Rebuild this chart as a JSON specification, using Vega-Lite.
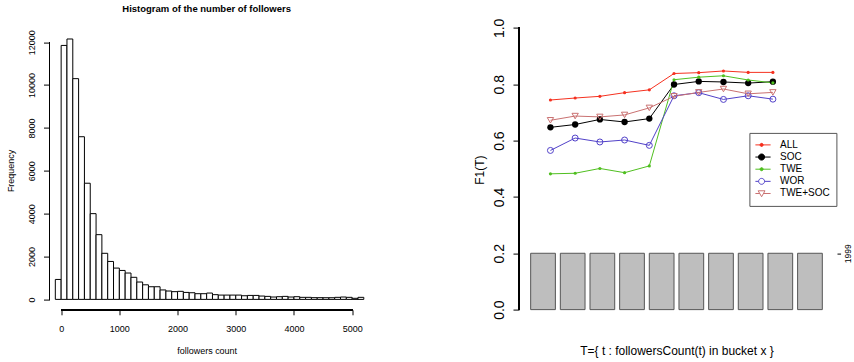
{
  "$schema": "https://vega.github.io/schema/vega-lite/v6.json",
  "padding": {"left": 6.5, "top": 3.6, "right": 0, "bottom": 0},
  "background": "white",
  "spacing": 154.5,
  "bounds": "flush",
  "config": {
    "font": "Liberation Sans",
    "view": {"stroke": null},
    "axis": {"grid": false, "labelColor": "black", "titleColor": "black", "tickColor": "black", "domainColor": "black", "titleFontWeight": "normal", "labelFlush": false, "labelOverlap": false}
  },
  "hconcat": [
    {
      "width": 314.3,
      "height": 293.2,
      "title": {"text": "Histogram of the number of followers", "fontSize": 9.5, "fontWeight": "bold", "anchor": "middle", "frame": "group", "offset": -7.3, "baseline": "bottom", "color": "black"},
      "data": {"values": [
        {"bin_start": -100, "bin_end": 0, "count": 930},
        {"bin_start": 0, "bin_end": 100, "count": 11850},
        {"bin_start": 100, "bin_end": 200, "count": 12150},
        {"bin_start": 200, "bin_end": 300, "count": 10300},
        {"bin_start": 300, "bin_end": 400, "count": 7590},
        {"bin_start": 400, "bin_end": 500, "count": 5420},
        {"bin_start": 500, "bin_end": 600, "count": 4000},
        {"bin_start": 600, "bin_end": 700, "count": 3020},
        {"bin_start": 700, "bin_end": 800, "count": 2150},
        {"bin_start": 800, "bin_end": 900, "count": 1770},
        {"bin_start": 900, "bin_end": 1000, "count": 1460},
        {"bin_start": 1000, "bin_end": 1100, "count": 1350},
        {"bin_start": 1100, "bin_end": 1200, "count": 1230},
        {"bin_start": 1200, "bin_end": 1300, "count": 1030},
        {"bin_start": 1300, "bin_end": 1400, "count": 810},
        {"bin_start": 1400, "bin_end": 1500, "count": 680},
        {"bin_start": 1500, "bin_end": 1600, "count": 590},
        {"bin_start": 1600, "bin_end": 1700, "count": 590},
        {"bin_start": 1700, "bin_end": 1800, "count": 440},
        {"bin_start": 1800, "bin_end": 1900, "count": 390},
        {"bin_start": 1900, "bin_end": 2000, "count": 360},
        {"bin_start": 2000, "bin_end": 2100, "count": 375},
        {"bin_start": 2100, "bin_end": 2200, "count": 325},
        {"bin_start": 2200, "bin_end": 2300, "count": 310},
        {"bin_start": 2300, "bin_end": 2400, "count": 265},
        {"bin_start": 2400, "bin_end": 2500, "count": 265},
        {"bin_start": 2500, "bin_end": 2600, "count": 295},
        {"bin_start": 2600, "bin_end": 2700, "count": 220},
        {"bin_start": 2700, "bin_end": 2800, "count": 200},
        {"bin_start": 2800, "bin_end": 2900, "count": 200},
        {"bin_start": 2900, "bin_end": 3000, "count": 200},
        {"bin_start": 3000, "bin_end": 3100, "count": 200},
        {"bin_start": 3100, "bin_end": 3200, "count": 170},
        {"bin_start": 3200, "bin_end": 3300, "count": 185},
        {"bin_start": 3300, "bin_end": 3400, "count": 185},
        {"bin_start": 3400, "bin_end": 3500, "count": 155},
        {"bin_start": 3500, "bin_end": 3600, "count": 140},
        {"bin_start": 3600, "bin_end": 3700, "count": 110},
        {"bin_start": 3700, "bin_end": 3800, "count": 125},
        {"bin_start": 3800, "bin_end": 3900, "count": 140},
        {"bin_start": 3900, "bin_end": 4000, "count": 110},
        {"bin_start": 4000, "bin_end": 4100, "count": 125},
        {"bin_start": 4100, "bin_end": 4200, "count": 95},
        {"bin_start": 4200, "bin_end": 4300, "count": 95},
        {"bin_start": 4300, "bin_end": 4400, "count": 80},
        {"bin_start": 4400, "bin_end": 4500, "count": 80},
        {"bin_start": 4500, "bin_end": 4600, "count": 78},
        {"bin_start": 4600, "bin_end": 4700, "count": 78},
        {"bin_start": 4700, "bin_end": 4800, "count": 95},
        {"bin_start": 4800, "bin_end": 4900, "count": 110},
        {"bin_start": 4900, "bin_end": 5000, "count": 95},
        {"bin_start": 5000, "bin_end": 5100, "count": 50},
        {"bin_start": 5100, "bin_end": 5200, "count": 95}
      ]},
      "layer": [
        {
          "mark": {"type": "rect", "fill": "white", "stroke": "black", "strokeWidth": 1},
          "encoding": {
            "x": {"field": "bin_start", "type": "quantitative", "scale": {"domain": [-200, 5200], "nice": false, "zero": false},
              "axis": {"values": [0, 1000, 2000, 3000, 4000, 5000], "format": "d", "tickSize": 5, "labelFontSize": 9, "labelPadding": 9.7, "domain": false, "title": "followers count", "titleFontSize": 9, "titleY": 40.7, "titleBaseline": "middle"}},
            "x2": {"field": "bin_end"},
            "y": {"field": "count", "type": "quantitative", "scale": {"domain": [-486, 13195], "nice": false, "zero": false},
              "axis": {"values": [0, 2000, 4000, 6000, 8000, 10000, 12000], "format": "d", "tickSize": 6, "labelFontSize": 9, "labelAngle": 270, "labelAlign": "center", "labelBaseline": "bottom", "labelPadding": 7.3, "domain": false, "title": "Frequency", "titleFontSize": 9, "titleAngle": 270, "titleAlign": "center", "titleBaseline": "middle", "titleX": -39, "titleY": 153.8}},
            "y2": {"datum": 0}
          }
        },
        {"mark": {"type": "rule", "color": "black", "strokeWidth": 1}, "encoding": {"x": {"datum": -200}, "y": {"datum": 0}, "y2": {"datum": 12000}}},
        {"mark": {"type": "rule", "color": "black", "strokeWidth": 1}, "encoding": {"y": {"datum": -486}, "x": {"datum": 0}, "x2": {"datum": 5000}}}
      ]
    },
    {
      "width": 315,
      "height": 304.3,
      "resolve": {"scale": {"x": "independent", "y": "independent"}, "axis": {"x": "independent", "y": "independent"}},
      "layer": [
        {
          "data": {"values": [
            {"bucket": 1, "count": 1999}, {"bucket": 2, "count": 1999}, {"bucket": 3, "count": 1999}, {"bucket": 4, "count": 1999}, {"bucket": 5, "count": 1999},
            {"bucket": 6, "count": 1999}, {"bucket": 7, "count": 1999}, {"bucket": 8, "count": 1999}, {"bucket": 9, "count": 1999}, {"bucket": 10, "count": 1999}
          ]},
          "mark": {"type": "bar", "fill": "#bebebe", "stroke": "#555555", "strokeWidth": 1},
          "encoding": {
            "x": {"field": "bucket", "type": "ordinal", "scale": {"type": "band", "paddingInner": 0.1667, "paddingOuter": 0.3935}, "axis": null},
            "y": {"field": "count", "type": "quantitative", "scale": {"domain": [-399.8, 10394.8], "nice": false, "zero": false},
              "axis": {"orient": "right", "values": [1999], "format": "d", "offset": 3, "tickSize": 3.6, "labelFontSize": 8.5, "labelAngle": 270, "labelAlign": "center", "labelBaseline": "top", "labelPadding": 3, "domain": false, "title": null}},
            "y2": {"datum": 0}
          }
        },
        {
          "data": {"values": [
            {"series": "ALL", "bucket": 1, "f1": 0.744}, {"series": "ALL", "bucket": 2, "f1": 0.751}, {"series": "ALL", "bucket": 3, "f1": 0.757}, {"series": "ALL", "bucket": 4, "f1": 0.770}, {"series": "ALL", "bucket": 5, "f1": 0.780},
            {"series": "ALL", "bucket": 6, "f1": 0.838}, {"series": "ALL", "bucket": 7, "f1": 0.841}, {"series": "ALL", "bucket": 8, "f1": 0.847}, {"series": "ALL", "bucket": 9, "f1": 0.842}, {"series": "ALL", "bucket": 10, "f1": 0.842},
            {"series": "SOC", "bucket": 1, "f1": 0.647}, {"series": "SOC", "bucket": 2, "f1": 0.657}, {"series": "SOC", "bucket": 3, "f1": 0.675}, {"series": "SOC", "bucket": 4, "f1": 0.666}, {"series": "SOC", "bucket": 5, "f1": 0.678},
            {"series": "SOC", "bucket": 6, "f1": 0.799}, {"series": "SOC", "bucket": 7, "f1": 0.810}, {"series": "SOC", "bucket": 8, "f1": 0.808}, {"series": "SOC", "bucket": 9, "f1": 0.804}, {"series": "SOC", "bucket": 10, "f1": 0.809},
            {"series": "TWE", "bucket": 1, "f1": 0.482}, {"series": "TWE", "bucket": 2, "f1": 0.484}, {"series": "TWE", "bucket": 3, "f1": 0.501}, {"series": "TWE", "bucket": 4, "f1": 0.486}, {"series": "TWE", "bucket": 5, "f1": 0.510},
            {"series": "TWE", "bucket": 6, "f1": 0.816}, {"series": "TWE", "bucket": 7, "f1": 0.825}, {"series": "TWE", "bucket": 8, "f1": 0.830}, {"series": "TWE", "bucket": 9, "f1": 0.815}, {"series": "TWE", "bucket": 10, "f1": 0.805},
            {"series": "WOR", "bucket": 1, "f1": 0.565}, {"series": "WOR", "bucket": 2, "f1": 0.609}, {"series": "WOR", "bucket": 3, "f1": 0.595}, {"series": "WOR", "bucket": 4, "f1": 0.602}, {"series": "WOR", "bucket": 5, "f1": 0.583},
            {"series": "WOR", "bucket": 6, "f1": 0.759}, {"series": "WOR", "bucket": 7, "f1": 0.770}, {"series": "WOR", "bucket": 8, "f1": 0.746}, {"series": "WOR", "bucket": 9, "f1": 0.759}, {"series": "WOR", "bucket": 10, "f1": 0.747},
            {"series": "TWE+SOC", "bucket": 1, "f1": 0.672}, {"series": "TWE+SOC", "bucket": 2, "f1": 0.687}, {"series": "TWE+SOC", "bucket": 3, "f1": 0.684}, {"series": "TWE+SOC", "bucket": 4, "f1": 0.691}, {"series": "TWE+SOC", "bucket": 5, "f1": 0.716},
            {"series": "TWE+SOC", "bucket": 6, "f1": 0.757}, {"series": "TWE+SOC", "bucket": 7, "f1": 0.771}, {"series": "TWE+SOC", "bucket": 8, "f1": 0.783}, {"series": "TWE+SOC", "bucket": 9, "f1": 0.766}, {"series": "TWE+SOC", "bucket": 10, "f1": 0.771}
          ]},
          "encoding": {
            "x": {"field": "bucket", "type": "quantitative", "scale": {"domain": [-0.272, 12.472], "nice": false, "zero": false},
              "axis": {"labels": false, "ticks": false, "domain": false, "title": "T={ t : followersCount(t) in bucket x }", "titleFontSize": 12, "titleY": 30, "titleBaseline": "middle"}},
            "y": {"field": "f1", "type": "quantitative", "scale": {"domain": [-0.04, 1.04], "nice": false, "zero": false},
              "axis": {"orient": "left", "values": [0, 0.2, 0.4, 0.6, 0.8, 1.0], "format": ".1f", "tickSize": 6, "labelFontSize": 14, "labelAngle": 270, "labelAlign": "center", "labelBaseline": "bottom", "labelPadding": 6.2, "domain": false, "title": "F1(T)", "titleFontSize": 12, "titleAngle": 270, "titleAlign": "center", "titleBaseline": "middle", "titleX": -39.8, "titleY": 153}}
          },
          "layer": [
            {"mark": {"type": "rule", "color": "black", "strokeWidth": 1}, "encoding": {"x": {"datum": -0.272}, "y": {"datum": 0}, "y2": {"datum": 1}}},
            {
              "mark": {"type": "line", "strokeWidth": 1},
              "encoding": {"color": {"field": "series", "type": "nominal", "scale": {"range": ["#f5301f", "#000000", "#4fbf1f", "#c97070", "#5040c8"]}, "legend": null}}
            },
            {"transform": [{"filter": "datum.series === 'ALL'"}], "mark": {"type": "circle", "size": 10, "opacity": 1},
              "encoding": {"color": {"field": "series", "type": "nominal", "legend": null}}},
            {"transform": [{"filter": "datum.series === 'SOC'"}], "mark": {"type": "circle", "size": 40, "opacity": 1},
              "encoding": {"color": {"field": "series", "type": "nominal", "legend": null}}},
            {"transform": [{"filter": "datum.series === 'TWE'"}], "mark": {"type": "circle", "size": 10, "opacity": 1},
              "encoding": {"color": {"field": "series", "type": "nominal", "legend": null}}},
            {"transform": [{"filter": "datum.series === 'WOR'"}], "mark": {"type": "point", "shape": "circle", "filled": false, "size": 36, "strokeWidth": 1, "opacity": 1},
              "encoding": {"color": {"field": "series", "type": "nominal", "legend": null}}},
            {"transform": [{"filter": "datum.series === 'TWE+SOC'"}], "mark": {"type": "point", "shape": "triangle-down", "filled": false, "size": 40, "strokeWidth": 1, "opacity": 1},
              "encoding": {"color": {"field": "series", "type": "nominal", "legend": null}}},
            {
              "mark": {"type": "point", "filled": true, "opacity": 0},
              "encoding": {
                "stroke": {"field": "series", "type": "nominal", "scale": {"domain": ["ALL", "SOC", "TWE", "WOR", "TWE+SOC"], "range": ["#f5301f", "#000000", "#4fbf1f", "#5040c8", "#c97070"]},
                  "legend": {"orient": "none", "legendX": 699.9, "legendY": 116.3, "title": null, "padding": 6, "strokeColor": "#555555", "fillColor": "white", "symbolSize": 324, "symbolStrokeWidth": 1, "symbolOpacity": 1, "labelFontSize": 10, "labelColor": "black", "clipHeight": 12, "rowPadding": 0.15, "labelOffset": 9, "symbolOffset": -3.3}},
                "fill": {"field": "series", "type": "nominal", "scale": {"domain": ["ALL", "SOC", "TWE", "WOR", "TWE+SOC"], "range": ["#f5301f", "#000000", "#4fbf1f", "transparent", "transparent"]},
                  "legend": {"orient": "none", "legendX": 699.9, "legendY": 116.3, "title": null, "padding": 6, "strokeColor": "#555555", "fillColor": "white", "symbolSize": 324, "symbolStrokeWidth": 1, "symbolOpacity": 1, "labelFontSize": 10, "labelColor": "black", "clipHeight": 12, "rowPadding": 0.15, "labelOffset": 9, "symbolOffset": -3.3}},
                "shape": {"field": "series", "type": "nominal", "scale": {"domain": ["ALL", "SOC", "TWE", "WOR", "TWE+SOC"], "range": [
                    "M-1,0H1M-0.17,0A0.17,0.17,0,1,1,0.17,0A0.17,0.17,0,1,1,-0.17,0Z",
                    "M-1,0H1M-0.34,0A0.34,0.34,0,1,1,0.34,0A0.34,0.34,0,1,1,-0.34,0Z",
                    "M-1,0H1M-0.17,0A0.17,0.17,0,1,1,0.17,0A0.17,0.17,0,1,1,-0.17,0Z",
                    "M-1,0H-0.33M0.33,0H1M-0.33,0A0.33,0.33,0,1,1,0.33,0A0.33,0.33,0,1,1,-0.33,0Z",
                    "M-1,0H-0.2M0.2,0H1M-0.38,-0.3H0.38L0,0.36Z"
                  ]},
                  "legend": {"orient": "none", "legendX": 699.9, "legendY": 116.3, "title": null, "padding": 6, "strokeColor": "#555555", "fillColor": "white", "symbolSize": 324, "symbolStrokeWidth": 1, "symbolOpacity": 1, "labelFontSize": 10, "labelColor": "black", "clipHeight": 12, "rowPadding": 0.15, "labelOffset": 9, "symbolOffset": -3.3}}
              }
            }
          ]
        }
      ]
    }
  ]
}
